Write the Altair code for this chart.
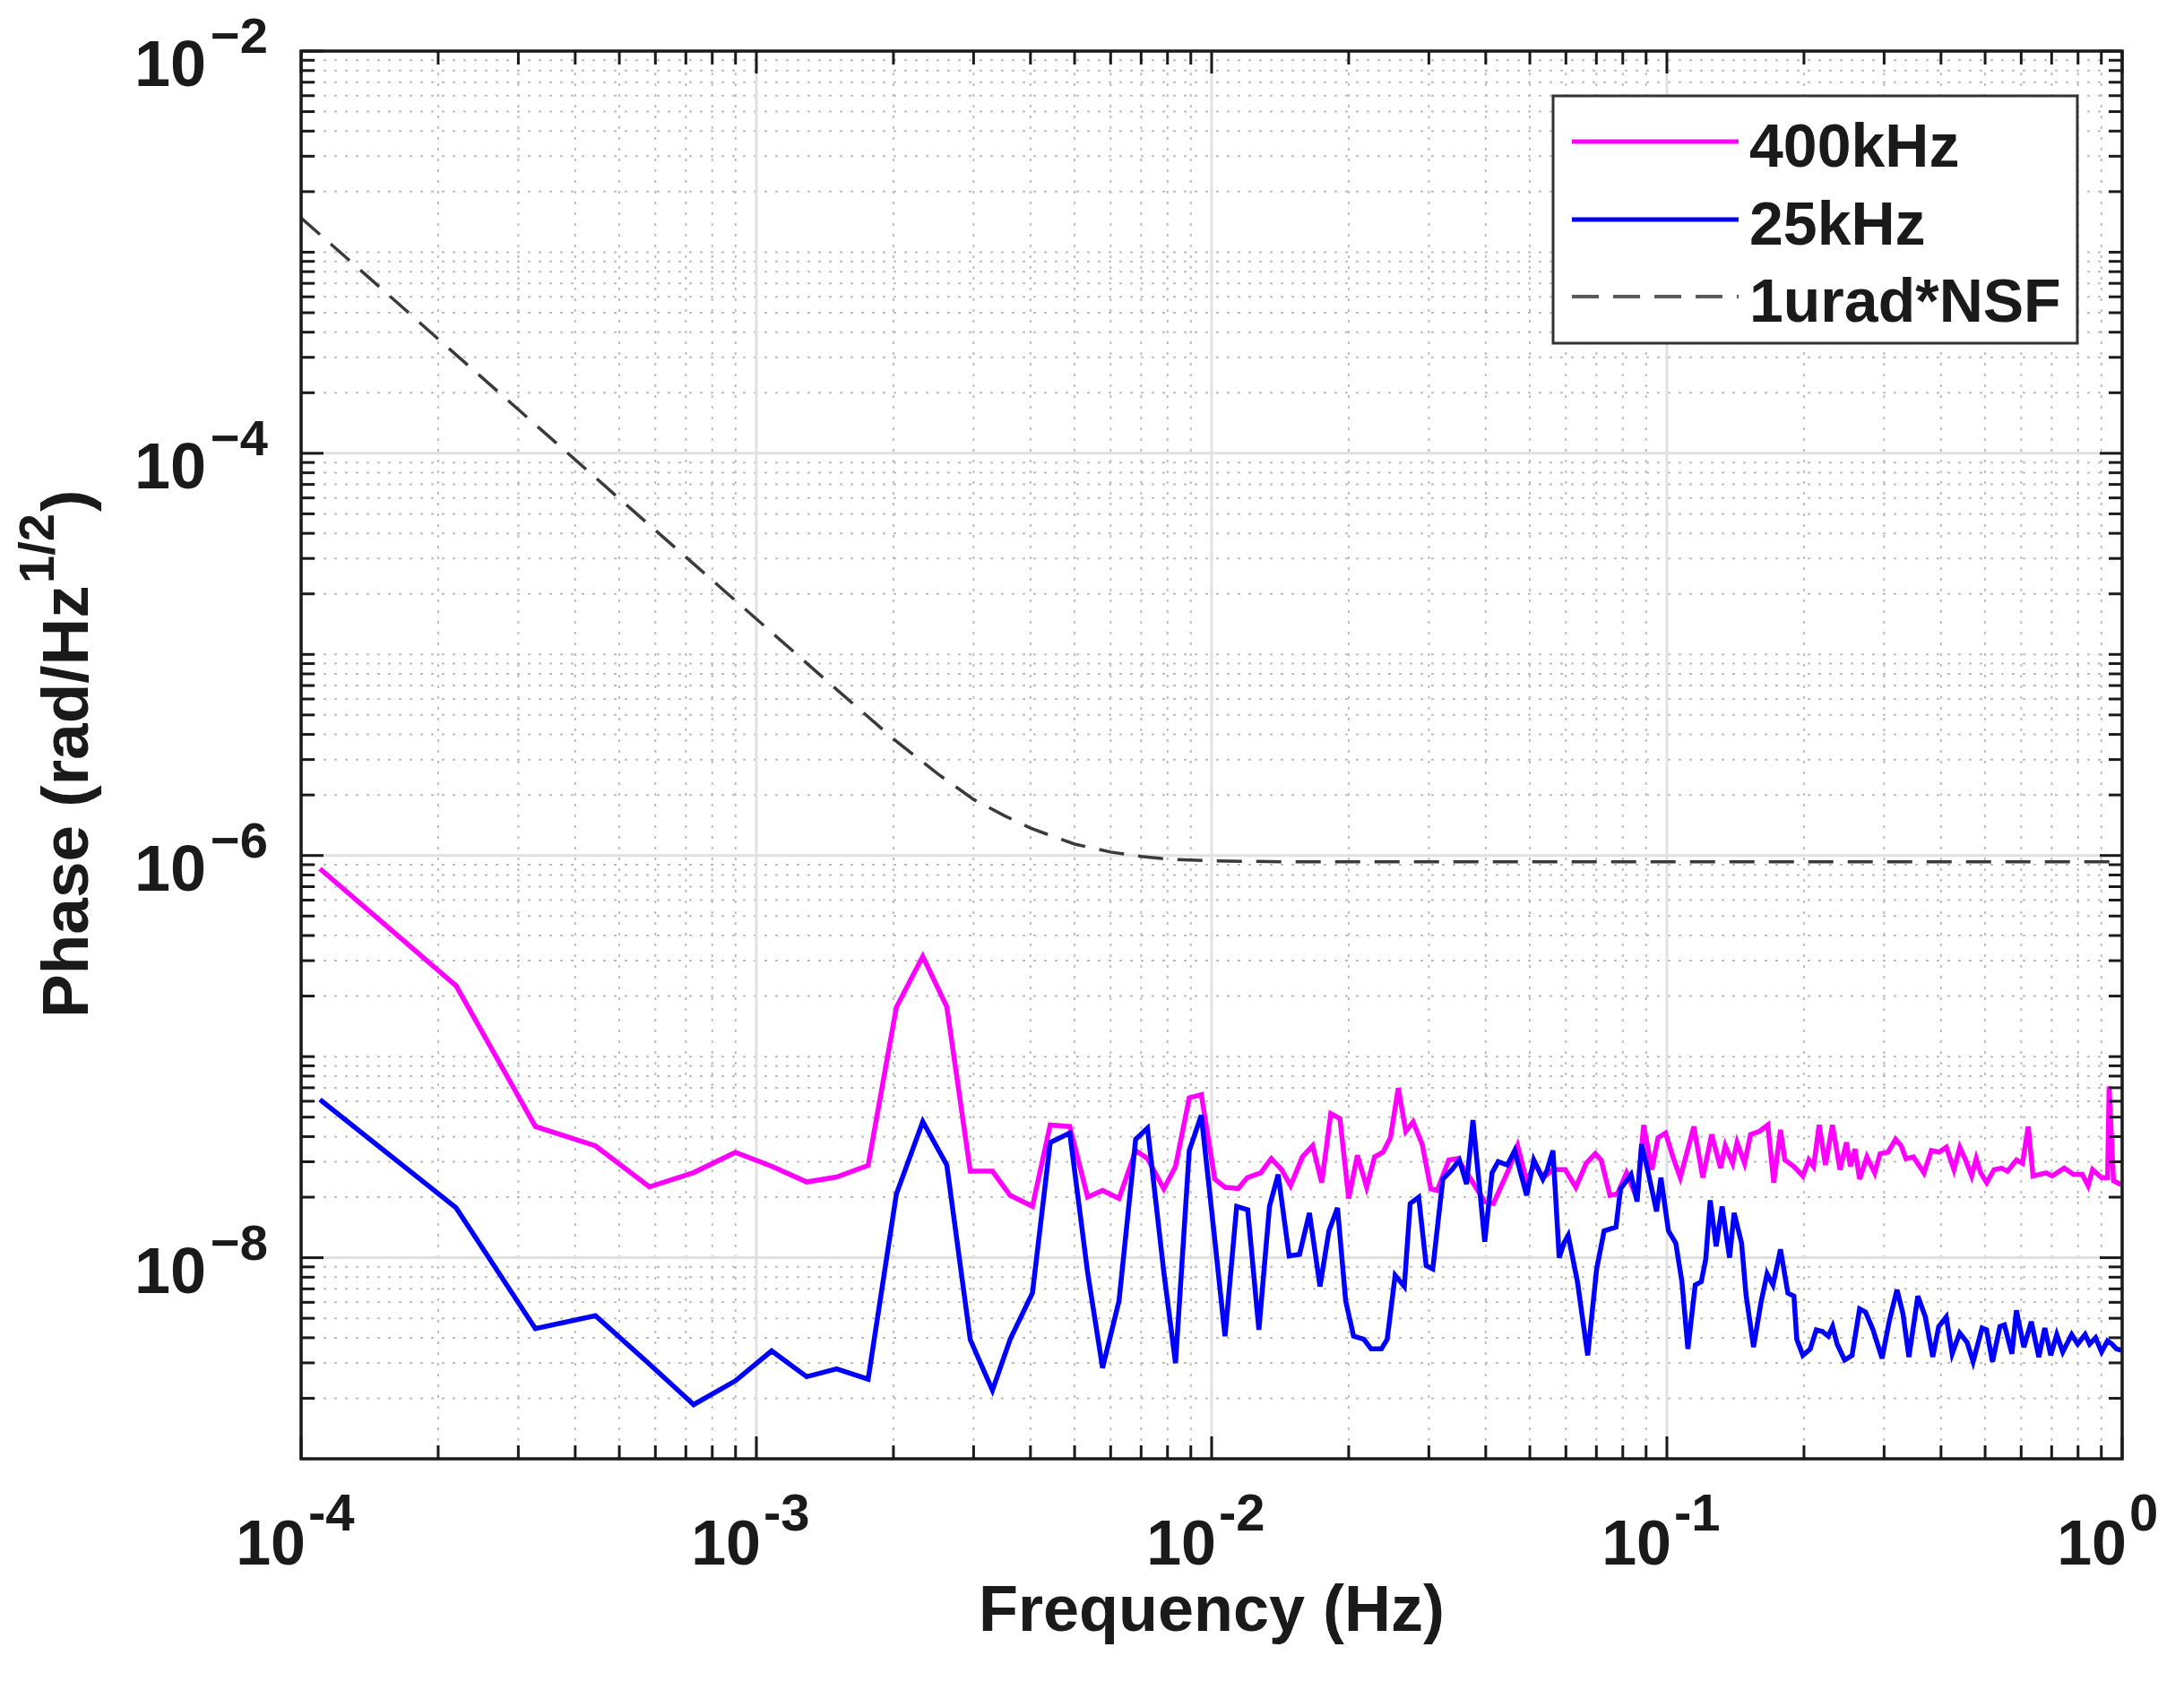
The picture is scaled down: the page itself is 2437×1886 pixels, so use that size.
import altair as alt
import pandas as pd

W, H = 2032, 1571
FONT = "Liberation Sans"
INK = "#1a1a1a"

# ---------------- data ----------------
f_400k = [
    1.10e-4, 2.19e-4, 3.27e-4, 4.43e-4, 5.82e-4, 7.28e-4, 8.99e-4, 1.08e-3, 1.29e-3, 1.50e-3,
    1.76e-3, 2.03e-3, 2.32e-3, 2.62e-3, 2.95e-3, 3.30e-3, 3.61e-3, 4.04e-3, 4.42e-3, 4.88e-3,
    5.34e-3, 5.76e-3, 6.26e-3, 6.81e-3, 7.23e-3, 7.85e-3, 8.33e-3, 8.93e-3, 9.49e-3, 1.016e-2,
    1.07e-2, 1.144e-2, 1.197e-2, 1.282e-2, 1.352e-2, 1.425e-2, 1.491e-2, 1.582e-2, 1.667e-2, 1.745e-2,
    1.827e-2, 1.913e-2, 2.00e-2, 2.09e-2, 2.19e-2, 2.28e-2, 2.38e-2, 2.47e-2, 2.57e-2, 2.67e-2,
    2.77e-2, 2.90e-2, 3.03e-2, 3.13e-2, 3.32e-2, 3.47e-2, 3.69e-2, 3.98e-2, 4.16e-2, 4.49e-2,
    4.70e-2, 4.92e-2, 5.14e-2, 5.34e-2, 5.63e-2, 5.98e-2, 6.31e-2, 6.65e-2, 6.96e-2, 7.17e-2,
    7.50e-2, 7.79e-2, 8.15e-2, 8.60e-2, 8.89e-2, 9.27e-2, 9.56e-2, 9.93e-2, 0.1031, 0.1070,
    0.1146, 0.1199, 0.1254, 0.1312, 0.1343, 0.1394, 0.1426, 0.1481, 0.1527, 0.1597,
    0.1666, 0.1717, 0.1776, 0.1816, 0.1901, 0.1989, 0.205, 0.210, 0.216, 0.223,
    0.231, 0.240, 0.248, 0.253, 0.259, 0.265, 0.275, 0.286, 0.294, 0.306,
    0.318, 0.327, 0.335, 0.348, 0.367, 0.381, 0.396, 0.411, 0.427, 0.440,
    0.453, 0.467, 0.478, 0.489, 0.504, 0.523, 0.543, 0.560, 0.586, 0.604,
    0.622, 0.637, 0.661, 0.681, 0.702, 0.746, 0.781, 0.817, 0.842, 0.861,
    0.901, 0.929, 0.936, 0.957, 0.994,
]
v_400k = [
    8.59e-7, 2.25e-7, 4.49e-8, 3.60e-8, 2.25e-8, 2.65e-8, 3.34e-8, 2.85e-8, 2.38e-8, 2.52e-8,
    2.88e-8, 1.76e-7, 3.15e-7, 1.77e-7, 2.69e-8, 2.69e-8, 2.04e-8, 1.80e-8, 4.57e-8, 4.49e-8,
    2.00e-8, 2.16e-8, 1.97e-8, 3.41e-8, 3.11e-8, 2.20e-8, 2.84e-8, 6.24e-8, 6.47e-8, 2.46e-8,
    2.24e-8, 2.21e-8, 2.50e-8, 2.64e-8, 3.11e-8, 2.74e-8, 2.28e-8, 3.17e-8, 3.60e-8, 2.36e-8,
    5.20e-8, 4.92e-8, 1.97e-8, 3.23e-8, 2.24e-8, 3.17e-8, 3.35e-8, 3.95e-8, 6.97e-8, 4.25e-8,
    4.74e-8, 3.67e-8, 2.20e-8, 2.16e-8, 3.06e-8, 3.11e-8, 2.50e-8, 1.90e-8, 1.86e-8, 2.74e-8,
    3.60e-8, 2.40e-8, 2.95e-8, 2.50e-8, 2.74e-8, 2.74e-8, 2.24e-8, 2.95e-8, 3.29e-8, 3.06e-8,
    2.04e-8, 2.08e-8, 2.64e-8, 1.97e-8, 4.57e-8, 2.74e-8, 3.95e-8, 4.17e-8, 3.17e-8, 2.50e-8,
    4.49e-8, 2.50e-8, 4.10e-8, 2.79e-8, 3.60e-8, 2.95e-8, 3.74e-8, 2.95e-8, 4.10e-8, 4.25e-8,
    4.57e-8, 2.36e-8, 4.32e-8, 3.06e-8, 2.84e-8, 2.55e-8, 3.06e-8, 2.84e-8, 4.57e-8, 2.89e-8,
    4.57e-8, 2.74e-8, 3.74e-8, 2.84e-8, 3.47e-8, 2.46e-8, 3.17e-8, 2.64e-8, 3.29e-8, 3.35e-8,
    3.88e-8, 3.60e-8, 3.11e-8, 3.17e-8, 2.64e-8, 3.41e-8, 3.35e-8, 3.54e-8, 2.74e-8, 3.54e-8,
    3.06e-8, 2.55e-8, 3.11e-8, 2.64e-8, 2.36e-8, 2.74e-8, 2.79e-8, 2.69e-8, 3.06e-8, 2.95e-8,
    4.49e-8, 2.55e-8, 2.60e-8, 2.64e-8, 2.55e-8, 2.79e-8, 2.60e-8, 2.60e-8, 2.28e-8, 2.74e-8,
    2.50e-8, 2.50e-8, 7.10e-8, 2.41e-8, 2.31e-8,
]

f_25k = [
    1.10e-4, 2.19e-4, 3.27e-4, 4.43e-4, 5.82e-4, 7.28e-4, 8.99e-4, 1.08e-3, 1.29e-3, 1.50e-3,
    1.76e-3, 2.03e-3, 2.32e-3, 2.62e-3, 2.95e-3, 3.30e-3, 3.61e-3, 4.04e-3, 4.42e-3, 4.88e-3,
    5.34e-3, 5.76e-3, 6.26e-3, 6.81e-3, 7.23e-3, 7.85e-3, 8.33e-3, 8.93e-3, 9.49e-3, 1.016e-2,
    1.07e-2, 1.135e-2, 1.20e-2, 1.27e-2, 1.34e-2, 1.40e-2, 1.48e-2, 1.56e-2, 1.64e-2, 1.73e-2,
    1.81e-2, 1.89e-2, 1.97e-2, 2.05e-2, 2.16e-2, 2.24e-2, 2.36e-2, 2.43e-2, 2.53e-2, 2.65e-2,
    2.73e-2, 2.85e-2, 2.96e-2, 3.06e-2, 3.22e-2, 3.37e-2, 3.50e-2, 3.63e-2, 3.75e-2, 3.98e-2,
    4.13e-2, 4.26e-2, 4.46e-2, 4.63e-2, 4.92e-2, 5.10e-2, 5.34e-2, 5.46e-2, 5.62e-2, 5.80e-2,
    5.94e-2, 6.07e-2, 6.36e-2, 6.70e-2, 7.01e-2, 7.28e-2, 7.73e-2, 7.91e-2, 8.34e-2, 8.60e-2,
    8.80e-2, 9.07e-2, 9.49e-2, 9.70e-2, 0.1008, 0.1046, 0.1079, 0.1112, 0.1154, 0.1190,
    0.1217, 0.1245, 0.1283, 0.1322, 0.1373, 0.1405, 0.1459, 0.1492, 0.1550, 0.1609,
    0.1660, 0.1710, 0.1776, 0.1844, 0.1901, 0.1929, 0.1989, 0.2065, 0.2129, 0.2194,
    0.2262, 0.2312, 0.2366, 0.2457, 0.2551, 0.2650, 0.2731, 0.2836, 0.2969, 0.3083,
    0.3202, 0.3300, 0.3401, 0.3558, 0.3695, 0.3837, 0.3955, 0.4108, 0.4233, 0.4396,
    0.4565, 0.4706, 0.4924, 0.5036, 0.5190, 0.5390, 0.5513, 0.5726, 0.5857, 0.6082,
    0.6316, 0.6561, 0.6762, 0.6969, 0.7183, 0.7405, 0.7746, 0.7985, 0.8291, 0.8482,
    0.8742, 0.9011, 0.9286, 0.9500, 0.9716, 1.0,
]
v_25k = [
    6.11e-8, 1.77e-8, 4.44e-9, 5.15e-9, 2.96e-9, 1.86e-9, 2.44e-9, 3.44e-9, 2.56e-9, 2.80e-9,
    2.49e-9, 2.07e-8, 4.75e-8, 2.89e-8, 3.91e-9, 2.19e-9, 3.93e-9, 6.68e-9, 3.74e-8, 4.17e-8,
    8.45e-9, 2.83e-9, 6.10e-9, 3.88e-8, 4.41e-8, 8.50e-9, 2.99e-9, 3.41e-8, 5.11e-8, 1.23e-8,
    4.07e-9, 1.80e-8, 1.73e-8, 4.38e-9, 1.80e-8, 2.59e-8, 1.02e-8, 1.04e-8, 1.67e-8, 7.19e-9,
    1.36e-8, 1.77e-8, 6.10e-9, 4.07e-9, 3.93e-9, 3.52e-9, 3.52e-9, 3.93e-9, 8.18e-9, 7.19e-9,
    1.86e-8, 2.00e-8, 9.13e-9, 8.80e-9, 2.46e-8, 2.74e-8, 3.06e-8, 2.32e-8, 4.83e-8, 1.20e-8,
    2.64e-8, 3.00e-8, 2.89e-8, 3.41e-8, 2.04e-8, 3.06e-8, 2.46e-8, 2.74e-8, 3.41e-8, 1.00e-8,
    1.18e-8, 1.29e-8, 7.60e-9, 3.27e-9, 8.80e-9, 1.36e-8, 1.42e-8, 2.20e-8, 2.59e-8, 1.90e-8,
    3.67e-8, 2.74e-8, 1.70e-8, 2.50e-8, 1.36e-8, 1.18e-8, 7.60e-9, 3.52e-9, 7.32e-9, 7.60e-9,
    9.82e-9, 1.93e-8, 1.14e-8, 1.80e-8, 1.00e-8, 1.67e-8, 1.18e-8, 6.56e-9, 3.59e-9, 5.98e-9,
    8.32e-9, 7.32e-9, 1.10e-8, 6.68e-9, 6.44e-9, 3.93e-9, 3.27e-9, 3.52e-9, 4.38e-9, 4.30e-9,
    4.07e-9, 4.55e-9, 3.72e-9, 3.10e-9, 3.27e-9, 5.56e-9, 5.37e-9, 4.38e-9, 3.16e-9, 4.90e-9,
    6.93e-9, 5.27e-9, 3.21e-9, 6.44e-9, 5.08e-9, 3.21e-9, 4.55e-9, 5.08e-9, 3.33e-9, 4.22e-9,
    3.79e-9, 3.04e-9, 4.47e-9, 4.38e-9, 3.04e-9, 4.55e-9, 4.63e-9, 3.33e-9, 5.47e-9, 3.59e-9,
    4.81e-9, 3.21e-9, 4.47e-9, 3.27e-9, 4.15e-9, 3.40e-9, 4.15e-9, 3.72e-9, 4.15e-9, 3.72e-9,
    4.00e-9, 3.40e-9, 3.86e-9, 3.72e-9, 3.52e-9, 3.46e-9,
]

f_nsf = [1.0e-4, 1.5e-4, 2.0e-4, 3.0e-4, 5.0e-4, 7.0e-4, 1.0e-3, 1.5e-3, 2.0e-3, 2.5e-3,
         3.0e-3, 3.5e-3, 4.0e-3, 4.5e-3, 5.0e-3, 6.0e-3, 7.0e-3, 8.0e-3, 1.0e-2, 1.5e-2, 1.0]
v_nsf = [1.48e-3, 6.6e-4, 3.7e-4, 1.65e-4, 5.95e-5, 3.05e-5, 1.5e-5, 6.7e-6, 3.8e-6, 2.55e-6,
         1.9e-6, 1.58e-6, 1.37e-6, 1.24e-6, 1.14e-6, 1.04e-6, 0.99e-6, 0.96e-6, 0.94e-6, 0.93e-6, 0.93e-6]

series_names = ["400kHz", "25kHz", "1urad*NSF"]
series_colors = ["#ff00ff", "#0000ff", "#3a3a3a"]

x_major = [1e-4, 1e-3, 1e-2, 1e-1, 1.0]
x_exp = ["-4", "-3", "-2", "-1", "0"]
y_major = [1e-8, 1e-6, 1e-4, 1e-2]
y_exp = ["\u22128", "\u22126", "\u22124", "\u22122"]
x_minor = [m * 10.0 ** k for k in range(-4, 0) for m in range(2, 10)]
y_minor = [m * 10.0 ** k for k in range(-9, -2) for m in range(2, 10)] + [1e-7, 1e-5, 1e-3]

assert len(f_400k) == len(v_400k)
assert len(f_25k) == len(v_25k)
assert len(f_nsf) == len(v_nsf)

# ---------------- scales ----------------
xs = alt.Scale(type="log", domain=[1e-4, 1.0], nice=False)
ys = alt.Scale(type="log", domain=[1e-9, 1e-2], nice=False)


def X(field):
    return alt.X(field, type="quantitative", scale=xs, axis=None)


def Y(field):
    return alt.Y(field, type="quantitative", scale=ys, axis=None)


xmaj_df = pd.DataFrame({"x": x_major, "exp": x_exp})
ymaj_df = pd.DataFrame({"y": y_major, "exp": y_exp})
xmin_df = pd.DataFrame({"x": x_minor})
ymin_df = pd.DataFrame({"y": y_minor})
one = pd.DataFrame({"k": [0]})

layers = []

# grid
layers.append(alt.Chart(xmin_df).mark_rule(color="#bdbdbd", strokeWidth=2, strokeDash=[3, 9]).encode(x=X("x")))
layers.append(alt.Chart(ymin_df).mark_rule(color="#bdbdbd", strokeWidth=2, strokeDash=[3, 9]).encode(y=Y("y")))
layers.append(alt.Chart(xmaj_df).mark_rule(color="#e1e1e1", strokeWidth=3).encode(x=X("x")))
layers.append(alt.Chart(ymaj_df).mark_rule(color="#e1e1e1", strokeWidth=3).encode(y=Y("y")))

# data lines
df400 = pd.DataFrame({"f": f_400k, "v": v_400k})
df25 = pd.DataFrame({"f": f_25k, "v": v_25k})
dfn = pd.DataFrame({"f": f_nsf, "v": v_nsf})
layers.append(alt.Chart(df400).mark_line(color=series_colors[0], strokeWidth=5.5, strokeJoin="miter").encode(x=X("f"), y=Y("v")))
layers.append(alt.Chart(df25).mark_line(color=series_colors[1], strokeWidth=5.5, strokeJoin="miter").encode(x=X("f"), y=Y("v")))
layers.append(alt.Chart(dfn).mark_line(color=series_colors[2], strokeWidth=3.5, strokeDash=[28, 16]).encode(x=X("f"), y=Y("v")))

# ticks (inside, on all four sides)
TK = dict(color=INK, strokeWidth=3)
layers.append(alt.Chart(xmaj_df).mark_rule(**TK).encode(x=X("x"), y=alt.value(H), y2=alt.value(H - 25)))
layers.append(alt.Chart(xmaj_df).mark_rule(**TK).encode(x=X("x"), y=alt.value(0), y2=alt.value(25)))
layers.append(alt.Chart(xmin_df).mark_rule(**TK).encode(x=X("x"), y=alt.value(H), y2=alt.value(H - 15)))
layers.append(alt.Chart(xmin_df).mark_rule(**TK).encode(x=X("x"), y=alt.value(0), y2=alt.value(15)))
layers.append(alt.Chart(ymaj_df).mark_rule(**TK).encode(y=Y("y"), x=alt.value(0), x2=alt.value(25)))
layers.append(alt.Chart(ymaj_df).mark_rule(**TK).encode(y=Y("y"), x=alt.value(W), x2=alt.value(W - 25)))
layers.append(alt.Chart(ymin_df).mark_rule(**TK).encode(y=Y("y"), x=alt.value(0), x2=alt.value(15)))
layers.append(alt.Chart(ymin_df).mark_rule(**TK).encode(y=Y("y"), x=alt.value(W), x2=alt.value(W - 15)))

# box
layers.append(alt.Chart(one).mark_rect(fillOpacity=0, stroke=INK, strokeWidth=3.5).encode(
    x=alt.value(0), x2=alt.value(W), y=alt.value(0), y2=alt.value(H)))

# tick labels
TXT = dict(font=FONT, fontWeight="bold", color=INK, baseline="alphabetic")
layers.append(alt.Chart(xmaj_df).mark_text(text="10", align="right", dx=5, fontSize=70, **TXT).encode(
    x=X("x"), y=alt.value(H + 118)))
layers.append(alt.Chart(xmaj_df).mark_text(align="left", dx=8, fontSize=58, **TXT).encode(
    x=X("x"), y=alt.value(H + 80), text="exp:N"))
layers.append(alt.Chart(ymaj_df).mark_text(text="10", align="right", dy=39, fontSize=72, **TXT).encode(
    y=Y("y"), x=alt.value(-106)))
layers.append(alt.Chart(ymaj_df).mark_text(align="left", dy=2, fontSize=56, **TXT).encode(
    y=Y("y"), x=alt.value(-101), text="exp:N"))

# axis titles
layers.append(alt.Chart(one).mark_text(text="Frequency (Hz)", align="center", fontSize=72, **TXT).encode(
    x=alt.value(W / 2), y=alt.value(H + 192)))
layers.append(alt.Chart(one).mark_text(text="Phase (rad/Hz", align="left", angle=270, fontSize=73, **TXT).encode(
    x=alt.value(-238), y=alt.value(1079)))
layers.append(alt.Chart(one).mark_text(text="1/2", align="left", angle=270, fontSize=56, **TXT).encode(
    x=alt.value(-276), y=alt.value(594)))
layers.append(alt.Chart(one).mark_text(text=")", align="left", angle=270, fontSize=73, **TXT).encode(
    x=alt.value(-238), y=alt.value(514)))

# legend
LX0, LX1, LY0, LY1 = 1397, 1982, 50, 326
layers.append(alt.Chart(one).mark_rect(fill="white", stroke="#333333", strokeWidth=3).encode(
    x=alt.value(LX0), x2=alt.value(LX1), y=alt.value(LY0), y2=alt.value(LY1)))
row_y = [101, 188, 274]
for i, (name, col) in enumerate(zip(series_names, series_colors)):
    if i < 2:
        mk = alt.Chart(one).mark_rule(color=col, strokeWidth=5)
    else:
        mk = alt.Chart(one).mark_rule(color="#5a5a5a", strokeWidth=4, strokeDash=[30, 16])
    layers.append(mk.encode(x=alt.value(1418), x2=alt.value(1604), y=alt.value(row_y[i])))
    layers.append(alt.Chart(one).mark_text(text=name, align="left", fontSize=68, **TXT).encode(
        x=alt.value(1616), y=alt.value(row_y[i] + 28)))

chart = alt.layer(*layers).properties(
    width=W,
    height=H,
    padding={"left": 328, "top": 49, "right": 61, "bottom": 250},
    autosize=alt.AutoSizeParams(type="none"),
    background="white",
).configure_view(stroke=None)

chart.save("out.html", embed_options={"renderer": "svg", "actions": False})
